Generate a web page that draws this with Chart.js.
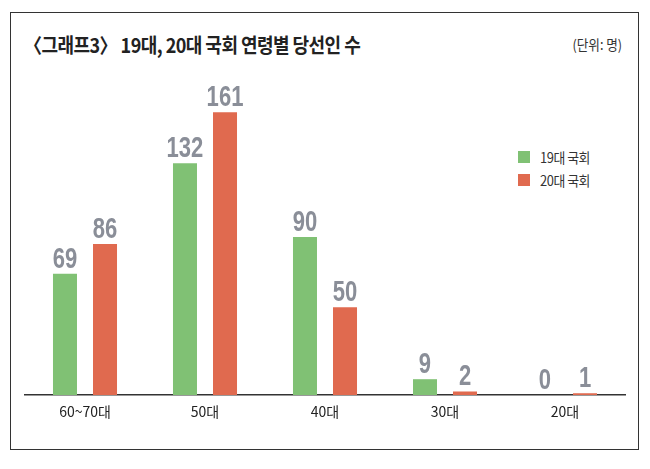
<!DOCTYPE html>
<html>
<head>
<meta charset="utf-8">
<script src="https://cdn.jsdelivr.net/npm/chart.js@4"></script>
<style>
  html,body{margin:0;padding:0;background:#fff;}
  #wrap{position:relative;width:650px;height:469px;overflow:hidden;}
  #frame{position:absolute;left:10px;top:12px;width:629px;height:438px;border:1.5px solid #333;box-sizing:border-box;}
  #title{position:absolute;left:24px;top:30px;font:bold 20px "Noto Sans CJK KR",sans-serif;color:#222;
    transform:scaleX(0.9);transform-origin:left top;white-space:nowrap;letter-spacing:-0.6px;}
  #unit{position:absolute;right:28px;top:34px;font:14px "Noto Sans CJK KR",sans-serif;color:#333;
    transform:scaleX(0.9);transform-origin:right top;white-space:nowrap;}
  #legend{position:absolute;left:518px;top:145px;font:14px "Noto Sans CJK KR",sans-serif;color:#333;}
  #legend div{display:flex;align-items:center;height:23px;white-space:nowrap;}
  #legend span.sw{display:inline-block;width:12px;height:12px;margin-right:10px;}
  #legend span.tx{display:inline-block;transform:scaleX(0.92);transform-origin:left center;letter-spacing:-0.5px;}
  canvas{position:absolute;left:0;top:0;}
</style>
</head>
<body>
<div id="wrap">
  <div id="frame"></div>
  <div id="title">〈그래프3〉 19대, 20대 국회 연령별 당선인 수</div>
  <div id="unit">(단위: 명)</div>
  <div id="legend"></div>
  <canvas id="c" width="650" height="469"></canvas>
</div>
<script>
// 연령대
const categories = ['60~70대', '50대', '40대', '30대', '20대'];
const seriesNames = ['19대 국회', '20대 국회'];
const assembly19 = [69, 132, 90, 9, 0];
const assembly20 = [86, 161, 50, 2, 1];
const colors = ['#80c174', '#e06a4f'];

// value labels above bars (narrow bold look: squeeze horizontally)
const squeeze = 0.76;
const valueLabels = {
  id: 'valueLabels',
  afterDatasetsDraw(chart){
    const ctx = chart.ctx;
    ctx.save();
    ctx.scale(squeeze, 1);
    ctx.font = 'bold 29px "Liberation Sans", sans-serif';
    ctx.fillStyle = '#8a8e98';
    ctx.textAlign = 'center';
    ctx.textBaseline = 'alphabetic';
    chart.data.datasets.forEach((ds, i)=>{
      chart.getDatasetMeta(i).data.forEach((bar, j)=>{
        ctx.fillText(String(ds.data[j]), bar.x / squeeze, bar.y - 6);
      });
    });
    ctx.restore();
  }
};

const legendEl = document.getElementById('legend');
seriesNames.forEach((n, i)=>{
  const d = document.createElement('div');
  d.innerHTML = `<span class="sw" style="background:${colors[i]}"></span><span class="tx">${n}</span>`;
  legendEl.appendChild(d);
});

new Chart(document.getElementById('c'), {
  type: 'bar',
  data: {
    labels: categories,
    datasets: [
      { label: seriesNames[0], data: assembly19, backgroundColor: colors[0] },
      { label: seriesNames[1], data: assembly20, backgroundColor: colors[1] }
    ]
  },
  plugins: [valueLabels],
  options: {
    responsive: false,
    animation: false,
    categoryPercentage: 0.667,
    barPercentage: 0.6,
    layout: { padding: { left: 25, right: 25, top: 100, bottom: 14 } },
    plugins: { legend: { display: false }, tooltip: { enabled: false } },
    scales: {
      x: {
        grid: { display: false, drawTicks: false },
        border: { display: true, color: '#333', width: 1.5 },
        ticks: {
          padding: 8,
          color: '#222',
          font: { family: '"Noto Sans CJK KR", sans-serif', size: 14 }
        },
        afterFit: (s)=>{ s.height = 60; }
      },
      y: { display: false, min: 0, max: 168 }
    }
  }
});
</script>
</body>
</html>
